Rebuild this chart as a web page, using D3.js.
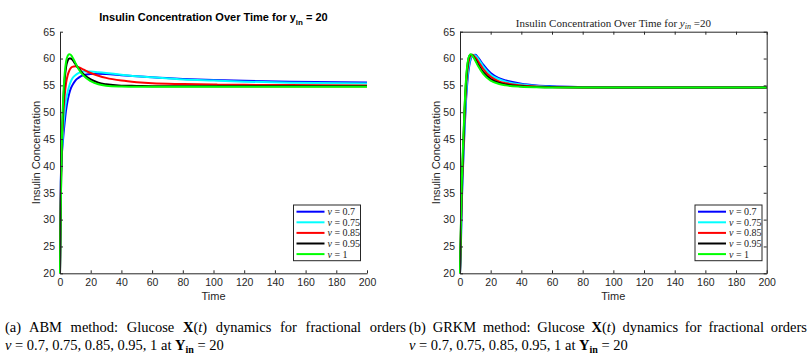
<!DOCTYPE html>
<html>
<head>
<meta charset="utf-8">
<script src="https://cdn.jsdelivr.net/npm/d3@7"></script>
<style>
	body { margin: 0; background: #fff; }
	#wrap { position: relative; width: 812px; height: 355px; overflow: hidden; }
	.cap { position: absolute; font-family: "Liberation Serif", "Times New Roman", serif; font-size: 14.5px; line-height: 16px; color: #000; white-space: nowrap; }
	.just { white-space: normal; text-align: justify; text-align-last: justify; }
	sub { font-size: 10px; vertical-align: -3px; line-height: 0; }
</style>
</head>
<body>
<div id="wrap">
	<svg id="chart"></svg>
	<div class="cap just" style="left:5px; top:319px; width:401px">(a) ABM method: Glucose <b>X</b>(<i>t</i>) dynamics for fractional orders</div>
	<div class="cap" style="left:5px; top:337px"><i>ν</i> = 0.7, 0.75, 0.85, 0.95, 1 at <b>Y<sub>in</sub></b> = 20</div>
	<div class="cap just" style="left:409px; top:319px; width:398px">(b) GRKM method: Glucose <b>X</b>(<i>t</i>) dynamics for fractional orders</div>
	<div class="cap" style="left:409px; top:337px"><i>ν</i> = 0.7, 0.75, 0.85, 0.95, 1 at <b>Y<sub>in</sub></b> = 20</div>
</div>
<script>
// time samples shared by every curve
let timePoints = [0, 0.5, 1, 2, 3, 4, 5, 6, 7, 8, 10, 12, 15, 20, 25, 30, 40, 50, 60, 80, 100, 120, 150, 200];

let nuLabels = ["0.7", "0.75", "0.85", "0.95", "1"];
let xTicks = [0, 20, 40, 60, 80, 100, 120, 140, 160, 180, 200];
let yTicks = [20, 25, 30, 35, 40, 45, 50, 55, 60, 65];

// (a) ABM method
let abm07  = [20, 37, 41, 45, 48, 50.5, 52.2, 53.5, 54.4, 55.0, 55.9, 56.4, 56.9, 57.1, 57.15, 57.1, 56.9, 56.7, 56.5, 56.2, 56.0, 55.85, 55.7, 55.55];
let abm075 = [20, 36, 41, 46.5, 50, 52.3, 53.8, 54.9, 55.7, 56.3, 56.9, 57.3, 57.6, 57.6, 57.45, 57.3, 57.0, 56.7, 56.5, 56.1, 55.9, 55.7, 55.5, 55.35];
let abm085 = [20, 35, 42, 49, 53, 55.5, 56.9, 57.7, 58.2, 58.45, 58.55, 58.4, 58.0, 57.3, 56.8, 56.4, 55.9, 55.6, 55.4, 55.25, 55.15, 55.1, 55.05, 55.0];
let abm095 = [20, 33, 42, 51, 56, 58.5, 59.6, 60.0, 60.0, 59.8, 59.0, 58.2, 57.2, 56.1, 55.5, 55.2, 54.95, 54.9, 54.85, 54.85, 54.85, 54.85, 54.85, 54.85];
let abm1   = [20, 32, 42, 52, 57, 59.5, 60.5, 60.8, 60.7, 60.3, 59.2, 58.1, 56.9, 55.8, 55.2, 54.95, 54.8, 54.75, 54.75, 54.75, 54.75, 54.75, 54.75, 54.75];

// (b) GRKM method
let grkm07  = [20, 24, 31, 40, 47, 52.5, 56.3, 58.6, 59.9, 60.6, 60.7, 60.1, 58.9, 57.3, 56.4, 55.9, 55.3, 55.0, 54.85, 54.7, 54.62, 54.6, 54.6, 54.6];
let grkm075 = [20, 25, 32, 41, 48, 53.5, 57.0, 59.1, 60.2, 60.7, 60.6, 59.9, 58.6, 57.0, 56.2, 55.7, 55.15, 54.9, 54.75, 54.65, 54.6, 54.6, 54.6, 54.6];
let grkm085 = [20, 26, 33, 42, 49.5, 55, 58.2, 59.9, 60.6, 60.7, 60.2, 59.4, 58.1, 56.6, 55.8, 55.4, 55.0, 54.8, 54.7, 54.62, 54.6, 54.6, 54.6, 54.6];
let grkm095 = [20, 27, 34, 43, 50.5, 56, 59.0, 60.4, 60.7, 60.6, 59.8, 58.8, 57.5, 56.2, 55.5, 55.15, 54.85, 54.7, 54.65, 54.6, 54.6, 54.6, 54.6, 54.6];
let grkm1   = [20, 28, 35, 44, 51, 56.5, 59.3, 60.5, 60.8, 60.6, 59.6, 58.5, 57.2, 55.9, 55.3, 55.0, 54.75, 54.65, 54.6, 54.6, 54.6, 54.6, 54.6, 54.6];

let lineColors = ["#0000ff", "#00ffff", "#ff0000", "#000000", "#00ff00"];

const width = 812;
const height = 355;
const axisColor = "#262626";

let svg = d3.select("#chart")
	.attr("width", width)
	.attr("height", height)
	.style("position", "absolute")
	.style("left", 0)
	.style("top", 0);

let drawPanel = function(series, left, right, boxed, titleFn, legendX) {
	const top = 31.7;
	const bottom = 273.3;

	let xScale = d3.scaleLinear().domain([0, 200]).range([left, right]);
	let yScale = d3.scaleLinear().domain([20, 65]).range([bottom, top]);

	let g = svg.append("g");

	// curves, drawn in legend order so green ends on top
	let line = d3.line()
		.x((d, i) => xScale(timePoints[i]))
		.y(d => yScale(d))
		.curve(d3.curveMonotoneX);

	g.selectAll("path.curve")
		.data(series)
		.enter()
		.append("path")
			.attr("class", "curve")
			.attr("d", d => line(d))
			.attr("fill", "none")
			.attr("stroke", (d, i) => lineColors[i])
			.attr("stroke-width", 2)
			.attr("stroke-linejoin", "round");

	// axes with inward ticks
	let xAxis = d3.axisBottom(xScale).tickValues(xTicks).tickSizeInner(-3).tickSizeOuter(0).tickPadding(5);
	let yAxis = d3.axisLeft(yScale).tickValues(yTicks).tickSizeInner(-3).tickSizeOuter(0).tickPadding(5);

	let axes = [
		g.append("g").attr("transform", `translate(0, ${bottom})`).call(xAxis),
		g.append("g").attr("transform", `translate(${left}, 0)`).call(yAxis)
	];

	if (boxed) {
		axes.push(g.append("g").attr("transform", `translate(0, ${top})`)
			.call(d3.axisTop(xScale).tickValues(xTicks).tickSizeInner(-3).tickSizeOuter(0).tickFormat("")));
		axes.push(g.append("g").attr("transform", `translate(${right}, 0)`)
			.call(d3.axisRight(yScale).tickValues(yTicks).tickSizeInner(-3).tickSizeOuter(0).tickFormat("")));
	}

	axes.forEach(a => {
		a.select(".domain").attr("stroke", axisColor);
		a.selectAll(".tick line").attr("stroke", axisColor);
		a.selectAll(".tick text")
			.attr("fill", axisColor)
			.style("font-family", "'Liberation Sans', Arial, sans-serif")
			.style("font-size", "10.5px");
	});

	// axis titles
	g.append("text")
		.attr("x", (left + right) / 2)
		.attr("y", 300)
		.attr("text-anchor", "middle")
		.attr("fill", axisColor)
		.style("font-family", "'Liberation Sans', Arial, sans-serif")
		.style("font-size", "11px")
		.text("Time");

	g.append("text")
		.attr("transform", `translate(${left - 20}, ${(top + bottom) / 2}) rotate(-90)`)
		.attr("text-anchor", "middle")
		.attr("fill", axisColor)
		.style("font-family", "'Liberation Sans', Arial, sans-serif")
		.style("font-size", "11px")
		.text("Insulin Concentration");

	titleFn(g, (left + right) / 2);

	// legend
	const lx = legendX;
	const ly = 205;
	const lw = 67;
	const lh = 55.7;
	let legend = g.append("g");
	legend.append("rect")
		.attr("x", lx).attr("y", ly)
		.attr("width", lw).attr("height", lh)
		.attr("fill", "#fff")
		.attr("stroke", axisColor)
		.attr("stroke-width", 1);

	let rows = legend.selectAll("g.row")
		.data(nuLabels)
		.enter()
		.append("g")
			.attr("transform", (d, i) => `translate(${lx}, ${ly + 6.7 + i * 10.6})`);

	rows.append("line")
		.attr("x1", 3).attr("x2", 31)
		.attr("stroke", (d, i) => lineColors[i])
		.attr("stroke-width", 2);

	let label = rows.append("text")
		.attr("x", 34)
		.attr("dy", "0.35em")
		.attr("fill", "#222")
		.style("font-family", "'Liberation Serif', 'Times New Roman', serif")
		.style("font-size", "10px");
	label.append("tspan").style("font-style", "italic").text("ν");
	label.append("tspan").text(d => " = " + d);
};

let abmTitle = function(g, cx) {
	let t = g.append("text")
		.attr("x", cx)
		.attr("y", 21)
		.attr("text-anchor", "middle")
		.attr("fill", "#000")
		.style("font-family", "'Liberation Sans', Arial, sans-serif")
		.style("font-weight", "bold")
		.style("font-size", "11px");
	t.append("tspan").text("Insulin Concentration Over Time for y");
	t.append("tspan").attr("dy", 3.5).style("font-size", "8px").text("in");
	t.append("tspan").attr("dy", -3.5).text(" = 20");
};

let grkmTitle = function(g, cx) {
	let t = g.append("text")
		.attr("x", cx)
		.attr("y", 27)
		.attr("text-anchor", "middle")
		.attr("fill", "#222")
		.style("font-family", "'Liberation Serif', 'Times New Roman', serif")
		.style("font-size", "11px");
	t.append("tspan").text("Insulin Concentration Over Time for ");
	t.append("tspan").style("font-style", "italic").text("y");
	t.append("tspan").attr("dy", 2).style("font-style", "italic").style("font-size", "8px").text("in");
	t.append("tspan").attr("dy", -2).text(" =20");
};

drawPanel([abm07, abm075, abm085, abm095, abm1], 60, 367, false, abmTitle, 293.5);
drawPanel([grkm07, grkm075, grkm085, grkm095, grkm1], 460, 766.7, true, grkmTitle, 695);
</script>
</body>
</html>
